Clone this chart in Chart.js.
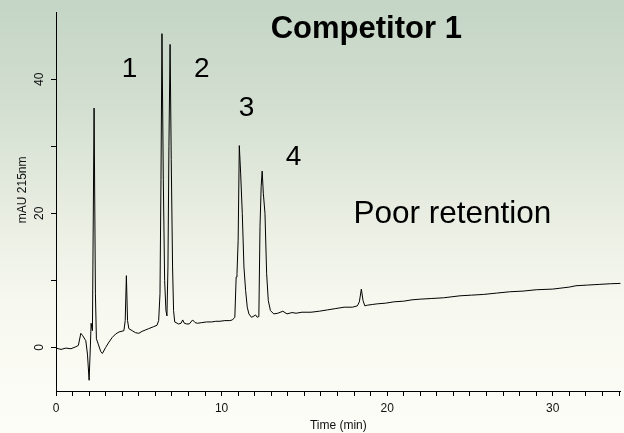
<!DOCTYPE html>
<html>
<head>
<meta charset="utf-8">
<script src="https://cdn.jsdelivr.net/npm/chart.js@4.4.1/dist/chart.umd.min.js"></script>
<style>
  html, body { margin: 0; padding: 0; background: #fcfcf7; }
  canvas { display: block; }
</style>
</head>
<body>
<canvas id="myChart" width="624" height="433"></canvas>
<script>
// retention time (min) and detector signal (mAU 215nm)
const times = [
  0.0, 0.3, 0.6, 0.9, 1.2, 1.35, 1.5, 1.6, 1.8, 1.9, 2.0, 2.08, 2.12, 2.2, 2.3, 2.38, 2.44, 2.55, 2.7, 2.8,
  3.0, 3.2, 3.4, 3.6, 3.8, 4.1, 4.18, 4.25, 4.32, 4.4, 4.6, 4.8, 5.0, 5.2, 5.4, 5.6, 5.9, 6.1, 6.2, 6.28,
  6.34, 6.4, 6.48, 6.56, 6.64, 6.7, 6.76, 6.82, 6.89, 6.96, 7.04, 7.1, 7.17, 7.4, 7.55, 7.65, 7.75, 7.9, 8.05, 8.25,
  8.4, 8.55, 8.8, 9.1, 9.4, 9.65, 9.9, 10.2, 10.5, 10.65, 10.8, 10.88, 10.93, 11.0, 11.07, 11.15, 11.25, 11.35, 11.45, 11.55,
  11.65, 11.8, 11.9, 12.05, 12.15, 12.25, 12.32, 12.39, 12.45, 12.52, 12.62, 12.72, 12.82, 12.95, 13.15, 13.4, 13.7, 13.95, 14.25, 14.5,
  14.85, 15.4, 15.9, 16.4, 16.9, 17.4, 17.9, 18.2, 18.32, 18.44, 18.54, 18.65, 18.8, 19.1, 19.4, 19.9, 20.4, 21.0, 21.5, 22.0,
  22.7, 23.4, 24.4, 25.1, 25.8, 26.6, 27.4, 28.2, 29.0, 30.0, 31.0, 31.4, 32.1, 32.8, 33.5, 34.1
];
const signal = [
  -0.1, -0.3, -0.1, -0.2, 0.1, 0.3, 2.1, 1.8, 1.0, -1.0, -4.9, 0.5, 3.6, 2.5, 35.7, 8, 1.3, 0.5, -0.6, -0.9,
  0.0, 0.8, 1.5, 2.0, 2.3, 2.5, 4, 10.7, 4, 2.8, 2.5, 2.2, 2.1, 2.4, 2.6, 2.8, 3.1, 3.3, 4.0, 8,
  25, 46.8, 25, 10, 5.5, 4.7, 12, 30, 45.2, 28, 12, 5.5, 3.8, 3.5, 3.6, 4.1, 3.6, 3.5, 3.5, 4.1,
  3.7, 3.6, 3.7, 3.8, 3.8, 3.9, 3.9, 4.0, 4.0, 4.1, 4.5, 10.5, 11, 16, 30.1, 26, 20, 12, 8.5, 6,
  5.0, 4.5, 4.6, 4.85, 4.5, 4.6, 18, 24, 26.3, 23, 20, 11, 7, 5.5, 5.0, 5.1, 5.4, 5.0, 5.2, 5.1,
  5.25, 5.25, 5.4, 5.6, 5.8, 6.0, 6.0, 6.2, 6.8, 8.7, 7.0, 6.2, 6.3, 6.4, 6.5, 6.6, 6.8, 6.9, 7.1, 7.2,
  7.3, 7.4, 7.7, 7.8, 7.9, 8.1, 8.3, 8.4, 8.6, 8.7, 9.0, 9.2, 9.3, 9.4, 9.5, 9.55
];

const xLabelTicks = [0, 10, 20, 30];
const yLabelTicks = [0, 20, 40];

// text placed on the plot, in data units
const peakNames = ['1', '2', '3', '4'];
const peakLabelX = [4.44, 8.8, 11.51, 14.35];
const peakLabelY = [41.5, 41.5, 35.7, 28.4];

const FONT = "'Liberation Sans', Arial, Helvetica, sans-serif";

const backdrop = {
    id: 'backdrop',
    beforeDraw(chart) {
        const { ctx, width, height } = chart;
        const g = ctx.createLinearGradient(0, 0, 0, height);
        g.addColorStop(0, '#c4d5c5');
        g.addColorStop(0.25, '#d3dfd1');
        g.addColorStop(0.5, '#e9eee2');
        g.addColorStop(0.7, '#f7f8ef');
        g.addColorStop(1, '#fdfdf8');
        ctx.save();
        ctx.fillStyle = g;
        ctx.fillRect(0, 0, width, height);
        ctx.restore();
    }
};

const notes = {
    id: 'notes',
    afterDraw(chart) {
        const { ctx, scales: { x, y } } = chart;
        ctx.save();
        ctx.fillStyle = '#000';
        ctx.textBaseline = 'middle';
        ctx.textAlign = 'center';
        ctx.font = `28px ${FONT}`;
        peakNames.forEach((n, i) => {
            ctx.fillText(n, x.getPixelForValue(peakLabelX[i]), y.getPixelForValue(peakLabelY[i]));
        });
        ctx.textBaseline = 'alphabetic';
        ctx.font = `bold 31px ${FONT}`;
        ctx.fillText('Competitor 1', x.getPixelForValue(18.74), y.getPixelForValue(46.1));
        ctx.textAlign = 'left';
        ctx.font = `31.5px ${FONT}`;
        ctx.fillText('Poor retention', x.getPixelForValue(17.96), y.getPixelForValue(18.6));

        // y axis title, sits a little above the middle of the axis
        ctx.fillStyle = '#111';
        ctx.font = `12px ${FONT}`;
        ctx.textAlign = 'center';
        ctx.textBaseline = 'middle';
        ctx.translate(22.5, y.getPixelForValue(23.5));
        ctx.rotate(-Math.PI / 2);
        ctx.fillText('mAU 215nm', 0, 0);
        ctx.restore();
    }
};

new Chart(document.getElementById('myChart'), {
    type: 'line',
    data: {
        datasets: [{
            label: 'Competitor 1',
            data: times.map((t, i) => ({ x: t, y: signal[i] })),
            borderColor: '#000',
            borderWidth: 1,
            pointRadius: 0,
            tension: 0,
            fill: false
        }]
    },
    options: {
        responsive: false,
        animation: false,
        devicePixelRatio: 1,
        layout: { padding: { top: 10, right: 0, left: 0, bottom: 0 } },
        plugins: {
            legend: { display: false },
            tooltip: { enabled: false }
        },
        scales: {
            x: {
                type: 'linear',
                min: 0,
                max: 34.1,
                afterFit: s => { s.height = 42; },
                border: { display: true, color: '#000', width: 1 },
                grid: { drawOnChartArea: false, drawTicks: true, tickLength: 5, color: '#000' },
                ticks: {
                    stepSize: 1,
                    autoSkip: false,
                    includeBounds: false,
                    maxRotation: 0,
                    padding: 5,
                    color: '#111',
                    font: { family: FONT, size: 12 },
                    callback: v => xLabelTicks.includes(v) ? String(v) : ''
                },
                title: {
                    display: true,
                    text: 'Time (min)',
                    color: '#111',
                    font: { family: FONT, size: 12 },
                    padding: { top: 0, bottom: 0 }
                }
            },
            y: {
                type: 'linear',
                min: -6.5,
                max: 50,
                afterFit: s => { s.width = 56; },
                afterBuildTicks: s => { s.ticks = s.ticks.filter(t => t.value >= 0 && t.value <= 40); },
                border: { display: true, color: '#000', width: 1 },
                grid: { drawOnChartArea: false, drawTicks: true, tickLength: 5, color: '#000' },
                ticks: {
                    stepSize: 10,
                    includeBounds: false,
                    minRotation: 90,
                    maxRotation: 90,
                    crossAlign: 'center',
                    padding: 5,
                    color: '#111',
                    font: { family: FONT, size: 12 },
                    callback: v => yLabelTicks.includes(v) ? String(v) : ''
                },
                title: { display: false }
            }
        }
    },
    plugins: [backdrop, notes]
});
</script>
</body>
</html>
